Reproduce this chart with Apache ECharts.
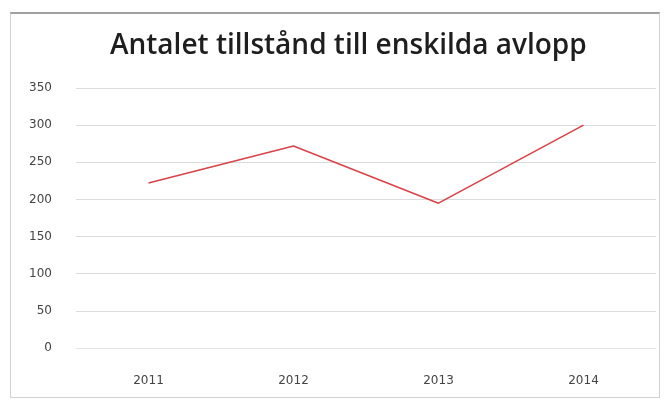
<!DOCTYPE html>
<html><head><meta charset="utf-8">
<script src="https://cdn.jsdelivr.net/npm/echarts@6/dist/echarts.min.js"></script>
<style>
html,body{margin:0;padding:0;background:#fff;}
#frame{position:absolute;left:10px;top:12px;width:650px;height:386px;border:1px solid #d2d2d2;border-top:2px solid #a0a0a0;box-sizing:border-box;}
#c{position:absolute;left:0;top:0;width:669px;height:408px;}
</style>
</head><body>
<div id="frame"></div>
<div id="c"></div>
<script>
const titleText = "Antalet tillstånd till enskilda avlopp";
const categories = ["2011", "2012", "2013", "2014"];
const values = [222, 272, 195, 300];
const yTicks = [0, 50, 100, 150, 200, 250, 300, 350];

const chart = echarts.init(document.getElementById('c'));
chart.setOption({
  animation: false,
  title: {
    text: titleText, left: 105, top: 27,
    textStyle: {fontFamily: 'Open Sans', fontSize: 28, fontWeight: 600, color: '#1e1e1e'}
  },
  grid: {left: 76, right: 13, top: 88, bottom: 60},
  xAxis: {
    type: 'category', data: categories, boundaryGap: true,
    axisLine: {show: true, lineStyle: {color: '#e4e4e4'}},
    axisTick: {show: false},
    axisLabel: {color: '#444', fontFamily: 'DejaVu Sans', fontSize: 12, margin: 27}
  },
  yAxis: {
    type: 'value', min: yTicks[0], max: yTicks[yTicks.length - 1], interval: 50,
    axisLine: {show: false}, axisTick: {show: false},
    axisLabel: {color: '#444', fontFamily: 'DejaVu Sans', fontSize: 12, margin: 24},
    splitLine: {lineStyle: {color: '#dcdcdc', width: 1}}
  },
  series: [{
    type: 'line', data: values, symbol: 'none',
    lineStyle: {color: '#d8434a', width: 1.6}
  }]
});
</script>
</body></html>
